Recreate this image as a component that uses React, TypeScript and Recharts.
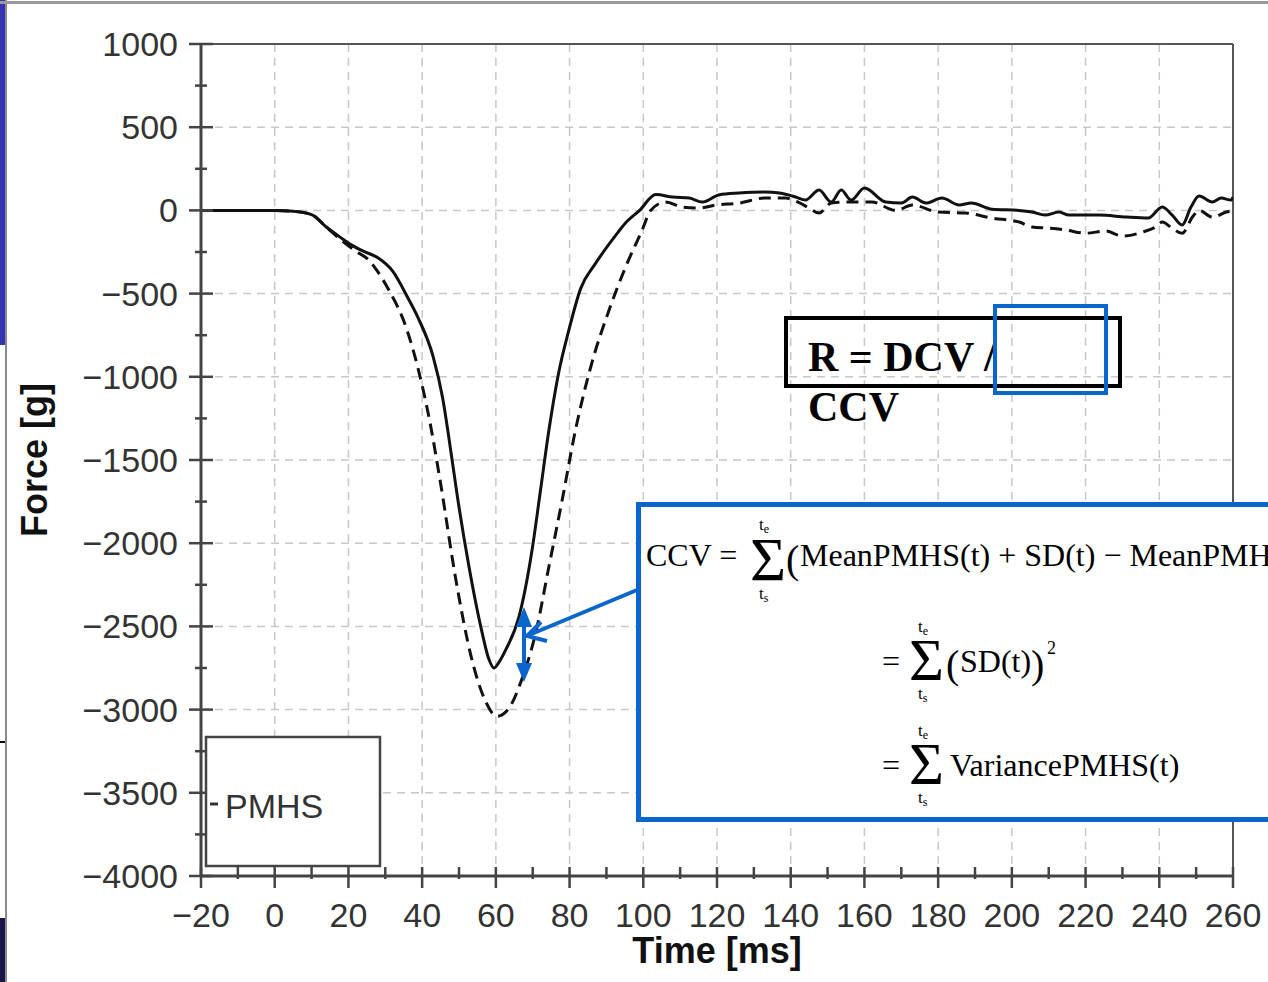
import { CartesianGrid, Line, LineChart, ReferenceLine, XAxis, YAxis } from "recharts";

// solid trace (mean PMHS)
const meanTime = [
  -20, -10, 0, 5, 10, 14, 18, 21, 24, 28, 32, 36, 39, 43, 45.5, 48, 49.5, 52.7, 56.3, 58, 59.5,
  61, 62.7, 66.3, 69.9, 72, 74.4, 77, 79.8, 83, 87, 92.5, 95, 99, 103.4, 108, 112.5, 116, 120.5,
  126, 133, 137, 141.4, 144, 147.7, 151, 153.7, 156.4, 160, 165.8, 170, 173, 176.7, 181, 185.7,
  189, 194.6, 202, 205.5, 209, 212.8, 215.5, 223.6, 231, 237, 240.8, 243.5, 246.2, 248.6, 250.8,
  254.4, 256.8, 259.5, 260,
];
const meanForce = [
  0, 0, 0, -5, -25, -100, -165, -210, -245, -285, -365, -520, -650, -880, -1120, -1480, -1710,
  -2140, -2540, -2690, -2750, -2710, -2640, -2440, -2030, -1700, -1320, -980, -720, -470, -320,
  -150, -80, 0, 95, 80, 74, 50, 93, 104, 110, 104, 80, 62, 122, 50, 122, 62, 134, 50, 44, 80, 44,
  74, 32, 44, 7, 0, -10, -28, -10, -28, -28, -40, -46, 20, -28, -88, 20, 86, 50, 74, 62, 80,
];

// dashed trace
const offsetTime = [
  -20, -10, 0, 5, 10, 14, 18, 22, 25.6, 28, 31, 35.6, 39, 42, 45, 49, 53.5, 57, 60.3, 63.6, 67,
  70.8, 74.4, 78, 81.6, 86, 90.7, 95.2, 99.7, 102, 106, 110.6, 115, 119.7, 126, 133, 138.6, 142,
  145, 147.7, 151, 155.8, 162, 168.5, 173, 180, 187.5, 194.6, 202, 205.5, 210, 214.6, 220, 225.5,
  230, 235.5, 239, 240.8, 243.5, 246.2, 249, 250.8, 254.4, 258.2, 260,
];
const offsetForce = [
  0, 0, 0, -5, -25, -100, -178, -245, -300, -370, -480, -700, -960, -1260, -1640, -2200, -2700,
  -2940, -3040, -2990, -2820, -2540, -2140, -1740, -1320, -920, -600, -340, -118, 0, 50, 20, 14,
  32, 44, 74, 74, 50, 14, -16, 44, 50, 50, 0, 32, -10, -16, -46, -70, -100, -107, -118, -137,
  -124, -154, -130, -100, -70, -107, -137, -40, 0, -40, -10, 0,
];

const timeTicks = [
  -20, -10, 0, 10, 20, 30, 40, 50, 60, 70, 80, 90, 100, 110, 120, 130, 140, 150, 160, 170, 180,
  190, 200, 210, 220, 230, 240, 250, 260,
];
const timeLabels = [-20, 0, 20, 40, 60, 80, 100, 120, 140, 160, 180, 200, 220, 240, 260];
const forceTicks = [
  -4000, -3750, -3500, -3250, -3000, -2750, -2500, -2250, -2000, -1750, -1500, -1250, -1000, -750,
  -500, -250, 0, 250, 500, 750, 1000,
];
const forceLabels = [-4000, -3500, -3000, -2500, -2000, -1500, -1000, -500, 0, 500, 1000];

const meanRows = meanTime.map((t, i) => ({ time: t, force: meanForce[i] }));
const offsetRows = offsetTime.map((t, i) => ({ time: t, force: offsetForce[i] }));

const SANS = "'Liberation Sans', Arial, Helvetica, sans-serif";
const SERIF = "'Liberation Serif', 'Times New Roman', serif";
const AXIS = "#444";
const BLUE = "#0a66cc";

const fmt = (v: number) => (v < 0 ? "\u2212" + Math.abs(v) : String(v));

function TimeTick(props: any) {
  const { x, y, payload } = props;
  const major = timeLabels.includes(payload.value);
  return (
    <g>
      <line x1={x} x2={x} y1={y - 9} y2={y + (major ? 12 : 3)} stroke={AXIS} strokeWidth={2.5} />
      {major && (
        <text x={x} y={y + 51} textAnchor="middle" fontSize={34} fill="#333" fontFamily={SANS}>
          {fmt(payload.value)}
        </text>
      )}
    </g>
  );
}

function ForceTick(props: any) {
  const { x, y, payload } = props;
  const major = forceLabels.includes(payload.value);
  const len = major ? 12 : 6;
  return (
    <g>
      <line x1={x - len} x2={x + len} y1={y} y2={y} stroke={AXIS} strokeWidth={2.5} />
      {major && (
        <text x={x - 23} y={y + 12} textAnchor="end" fontSize={34} fill="#333" fontFamily={SANS}>
          {fmt(payload.value)}
        </text>
      )}
    </g>
  );
}

function Sum({ x, y, size }: { x: number; y: number; size: number }) {
  // sigma with t_e above and t_s below
  return (
    <g fontFamily={SERIF} fill="#000">
      <text x={x} y={y} fontSize={size}>Σ</text>
      <text x={x + 9} y={y - size * 0.8} fontSize={17}>
        t<tspan fontSize={12} dy={3}>e</tspan>
      </text>
      <text x={x + 9} y={y + 19} fontSize={17}>
        t<tspan fontSize={12} dy={3}>s</tspan>
      </text>
    </g>
  );
}

function Overlay() {
  return (
    <svg
      width={1268}
      height={982}
      style={{ position: "absolute", left: 0, top: 0, pointerEvents: "none" }}
    >
      {/* slide edge */}
      <rect x={0} y={0} width={5} height={345} fill="#3434b4" />
      <rect x={0} y={918} width={5} height={64} fill="#16164a" />
      <line x1={0} x2={5} y1={742} y2={742} stroke="#000" strokeWidth={2} />
      <line x1={6} x2={6} y1={0} y2={982} stroke="#8a8a8a" strokeWidth={2} />
      <line x1={0} x2={1268} y1={2.5} y2={2.5} stroke="#9a9a9a" strokeWidth={3} />

      {/* legend */}
      <rect x={206} y={737} width={174} height={129} fill="#fff" stroke={AXIS} strokeWidth={2.5} />
      <line x1={210} x2={218} y1={804} y2={804} stroke="#333" strokeWidth={3} />
      <text x={225} y={818} fontSize={34} fill="#333" fontFamily={SANS}>PMHS</text>

      {/* R = DCV / CCV */}
      <rect x={786} y={318} width={334} height={68} fill="none" stroke="#000" strokeWidth={4} />
      <text x={808} y={371} fontSize={42} fontWeight={700} fontFamily={SERIF} fill="#000">
        R = DCV /
      </text>
      <text x={808} y={421} fontSize={42} fontWeight={700} fontFamily={SERIF} fill="#000">
        CCV
      </text>
      <rect x={995} y={306} width={111} height={87} fill="none" stroke={BLUE} strokeWidth={4} />

      {/* arrows */}
      <line x1={637} y1={590} x2={529} y2={635} stroke={BLUE} strokeWidth={4} />
      <polyline points="541,622 527,636 547,641" fill="none" stroke={BLUE} strokeWidth={4} />
      <line x1={524} y1={622} x2={524} y2={668} stroke={BLUE} strokeWidth={4} />
      <polygon points="524,607 516,627 532,627" fill={BLUE} />
      <polygon points="524,682 516,663 532,663" fill={BLUE} />

      {/* formula box */}
      <rect x={638.5} y={504.5} width={700} height={315} fill="#fff" stroke={BLUE} strokeWidth={5} />
      <g fontFamily={SERIF} fill="#000">
        <text x={646} y={566} fontSize={32}>CCV =</text>
        <text x={786} y={573} fontSize={40}>(</text>
        <text x={800} y={566} fontSize={32}>MeanPMHS(t) + SD(t) − MeanPMHS(t))</text>

        <text x={882} y={672} fontSize={32}>=</text>
        <text x={946} y={678} fontSize={40}>(</text>
        <text x={960} y={672} fontSize={32}>SD(t)</text>
        <text x={1031} y={678} fontSize={40}>)</text>
        <text x={1047} y={654} fontSize={18}>2</text>

        <text x={882} y={776} fontSize={32}>=</text>
        <text x={950} y={776} fontSize={32}>VariancePMHS(t)</text>
      </g>
      <Sum x={750} y={580} size={62} />
      <Sum x={909} y={680} size={60} />
      <Sum x={909} y={784} size={60} />
    </svg>
  );
}

export default function App() {
  return (
    <div
      style={{
        position: "fixed",
        left: 0,
        top: 0,
        width: 1268,
        height: 982,
        overflow: "hidden",
        background: "#fff",
      }}
    >
      <LineChart width={1268} height={982} margin={{ top: 44, right: 35, bottom: 0, left: 0 }}>
        <CartesianGrid
          stroke="#c8c8c8"
          strokeWidth={1.5}
          strokeDasharray="8 6"
          horizontalValues={forceLabels}
          verticalValues={timeLabels}
        />
        <XAxis
          dataKey="time"
          type="number"
          domain={[-20, 260]}
          ticks={timeTicks}
          interval={0}
          height={106}
          tickSize={0}
          tickMargin={0}
          tickLine={false}
          tick={<TimeTick />}
          axisLine={{ stroke: AXIS, strokeWidth: 3 }}
          allowDataOverflow
          label={{
            value: "Time [ms]",
            position: "insideBottom",
            offset: 19,
            fontSize: 36,
            fontWeight: 700,
            fontFamily: SANS,
            fill: "#111",
          }}
        />
        <YAxis
          type="number"
          domain={[-4000, 1000]}
          ticks={forceTicks}
          interval={0}
          width={201}
          tickSize={0}
          tickMargin={0}
          tickLine={false}
          tick={<ForceTick />}
          axisLine={{ stroke: AXIS, strokeWidth: 3 }}
          allowDataOverflow
          label={{
            value: "Force [g]",
            angle: -90,
            position: "insideLeft",
            offset: 34,
            fontSize: 36,
            fontWeight: 700,
            fontFamily: SANS,
            fill: "#111",
            style: { textAnchor: "middle" },
          }}
        />
        <ReferenceLine y={1000} stroke="#555" strokeWidth={2} />
        <ReferenceLine x={260} stroke="#555" strokeWidth={2} />
        <Line
          data={offsetRows}
          dataKey="force"
          type="monotone"
          stroke="#111"
          strokeWidth={3}
          strokeDasharray="12 7"
          dot={false}
          activeDot={false}
          isAnimationActive={false}
        />
        <Line
          data={meanRows}
          dataKey="force"
          type="monotone"
          stroke="#111"
          strokeWidth={3}
          dot={false}
          activeDot={false}
          isAnimationActive={false}
        />
      </LineChart>
      <Overlay />
    </div>
  );
}
